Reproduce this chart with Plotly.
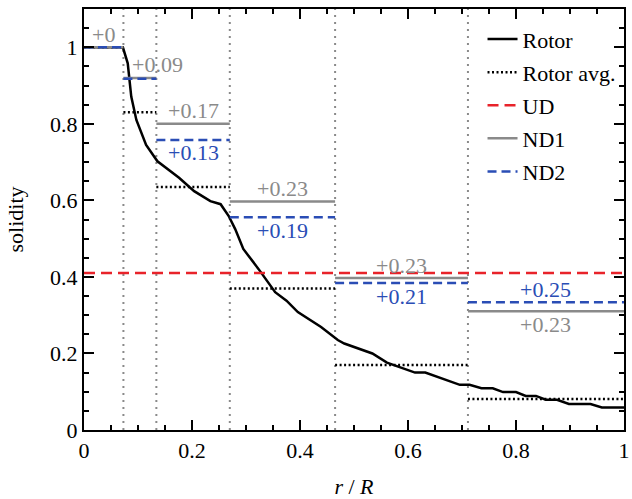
import plotly.graph_objects as go

# ---- data ----
rotor_r = [0, 0.072, 0.081, 0.0875, 0.097, 0.115, 0.136, 0.163, 0.176, 0.204, 0.234, 0.253,
           0.268, 0.280, 0.295, 0.323, 0.354, 0.375, 0.396, 0.439, 0.470, 0.482, 0.534, 0.561,
           0.613, 0.632, 0.696, 0.714, 0.736, 0.757, 0.776, 0.8, 0.818, 0.837, 0.855, 0.876,
           0.898, 0.938, 0.959, 1.0]
rotor_s = [1.0, 1.0, 0.958, 0.871, 0.81, 0.745, 0.702, 0.673, 0.659, 0.624, 0.598, 0.59,
           0.559, 0.525, 0.473, 0.421, 0.36, 0.338, 0.308, 0.269, 0.235, 0.226, 0.2, 0.176,
           0.15, 0.15, 0.118, 0.118, 0.109, 0.109, 0.099, 0.099, 0.089, 0.089, 0.079, 0.079,
           0.068, 0.068, 0.059, 0.059]

bounds = [0, 0.073, 0.134, 0.270, 0.465, 0.711, 1.0]
rotor_avg = [1.0, 0.83, 0.635, 0.37, 0.17, 0.081]
ud_value = 0.41
nd1 = [1.0, 0.92, 0.80, 0.597, 0.397, 0.31]
nd2 = [1.0, 0.918, 0.758, 0.556, 0.384, 0.334]
nd1_labels = ["+0", "+0.09", "+0.17", "+0.23", "+0.23", "+0.23"]
nd2_labels = [None, None, "+0.13", "+0.19", "+0.21", "+0.25"]
# label placement: +1 above the line, -1 below
nd1_side = [1, 1, 1, 1, 1, -1]
nd2_side = [0, 0, -1, -1, -1, 1]

GRAY = "#8a8a8a"
BLUE = "#2a4db5"
RED = "#e8232a"
FONT = "Liberation Serif"
FS = 22


def steps(vals):
    xs, ys = [], []
    for i, v in enumerate(vals):
        xs += [bounds[i], bounds[i + 1], None]
        ys += [v, v, None]
    return xs, ys


fig = go.Figure()

# vertical gray dotted separators
vx, vy = [], []
for b in bounds[1:-1]:
    vx += [b, b, None]
    vy += [0, 1.1, None]
fig.add_trace(go.Scatter(x=vx, y=vy, mode="lines", showlegend=False, hoverinfo="skip",
                         line=dict(color=GRAY, width=2, dash="2px,5px")))

fig.add_trace(go.Scatter(x=rotor_r, y=rotor_s, mode="lines", name="Rotor", legendgroup="a",
                         line=dict(color="black", width=2.5)))
ax, ay = steps(rotor_avg)
fig.add_trace(go.Scatter(x=ax, y=ay, mode="lines", name="Rotor avg.", legendgroup="b",
                         line=dict(color="black", width=2.5, dash="2px,2.5px")))
fig.add_trace(go.Scatter(x=[0, 1], y=[ud_value, ud_value], mode="lines", name="UD",
                         legendgroup="c",
                         line=dict(color=RED, width=2.5, dash="11px,6px")))
n1x, n1y = steps(nd1)
fig.add_trace(go.Scatter(x=n1x, y=n1y, mode="lines", name="ND1", legendgroup="d",
                         line=dict(color=GRAY, width=2.5)))
n2x, n2y = steps(nd2)
fig.add_trace(go.Scatter(x=n2x, y=n2y, mode="lines", name="ND2", legendgroup="e",
                         line=dict(color=BLUE, width=2.5, dash="9px,5px")))

# annotations
for i in range(len(nd1)):
    xc = (bounds[i] + bounds[i + 1]) / 2
    if i == 1:
        xc = bounds[i + 1] + 0.002
    if nd1_labels[i]:
        fig.add_annotation(x=xc, y=nd1[i], text=nd1_labels[i], showarrow=False,
                           yanchor="middle", yshift=13 * nd1_side[i],
                           font=dict(family=FONT, size=FS, color=GRAY))
    if nd2_labels[i]:
        fig.add_annotation(x=xc, y=nd2[i], text=nd2_labels[i], showarrow=False,
                           yanchor="middle", yshift=13 * nd2_side[i],
                           font=dict(family=FONT, size=FS, color=BLUE))

axis_common = dict(showline=True, linecolor="black", linewidth=2, mirror="ticks",
                   ticks="inside", ticklen=10, tickwidth=2, tickcolor="black",
                   showgrid=False, zeroline=False, ticklabeloverflow="allow",
                   tickfont=dict(family=FONT, size=FS, color="black"),
                   minor=dict(ticks="inside", ticklen=5, tickwidth=2, dtick=0.05,
                              tickcolor="black", showgrid=False))

fig.update_xaxes(range=[0, 1], dtick=0.2, tick0=0,
                 title=dict(text="<i>r</i> / <i>R</i>", font=dict(family=FONT, size=FS),
                            standoff=18),
                 **axis_common)
fig.update_yaxes(range=[0, 1.1], dtick=0.2, tick0=0,
                 title=dict(text="solidity", font=dict(family=FONT, size=FS), standoff=20),
                 **axis_common)

fig.update_layout(
    width=632, height=499,
    margin=dict(l=84, r=2, t=9, b=67),
    plot_bgcolor="white", paper_bgcolor="white",
    font=dict(family=FONT, size=FS, color="black"),
    legend=dict(x=0.738, y=0.978, xanchor="left", yanchor="top",
                bgcolor="rgba(0,0,0,0)", borderwidth=0, tracegroupgap=1.5,
                font=dict(family=FONT, size=FS)),
)

fig.write_html("out.html")
